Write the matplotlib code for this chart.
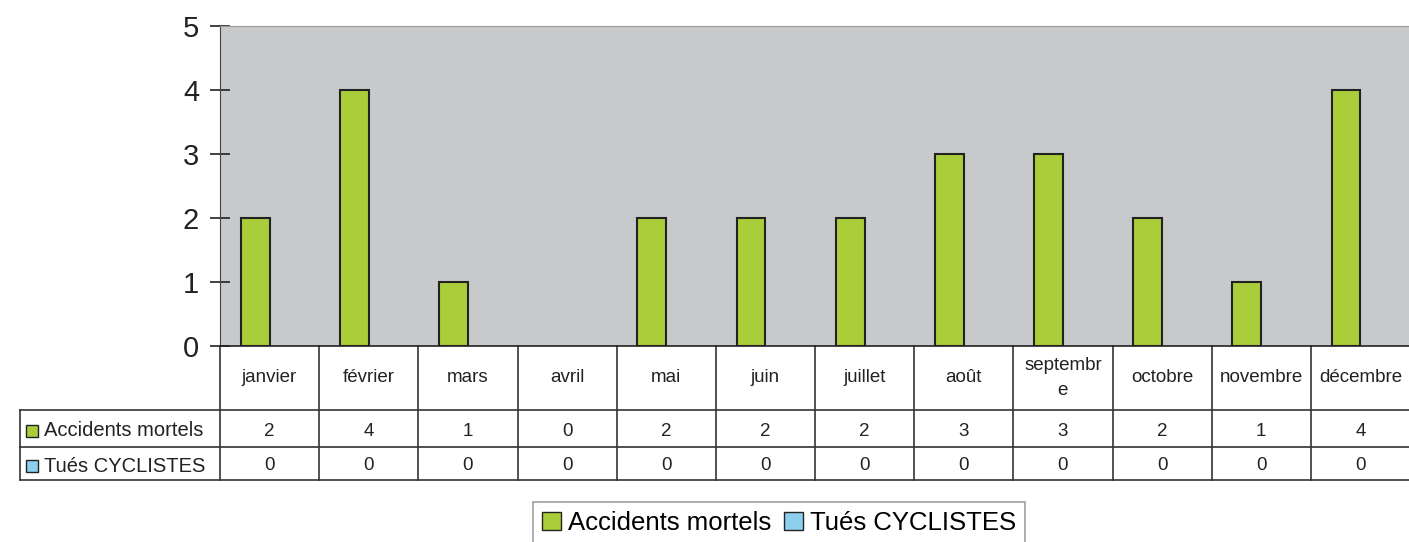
import matplotlib.pyplot as plt
import matplotlib.transforms as mtransforms
from matplotlib.patches import Patch, Rectangle

plt.rcParams['font.family'] = ['Liberation Sans', 'DejaVu Sans']

# données
mois = ['janvier', 'février', 'mars', 'avril', 'mai', 'juin', 'juillet',
        'août', 'septembr\ne', 'octobre', 'novembre', 'décembre']
accidents = [2, 4, 1, 0, 2, 2, 2, 3, 3, 2, 1, 4]
tues = [0, 0, 0, 0, 0, 0, 0, 0, 0, 0, 0, 0]
series = ['Accidents mortels', 'Tués CYCLISTES']

vert = '#AACD3A'
bleu = '#8DD0EE'
gris = '#C8C9CB'

W, H = 1409, 542
fig = plt.figure(figsize=(W / 100, H / 100), dpi=100)
ax = fig.add_axes([220 / W, (H - 346) / H, 1190 / W, 320 / H])
ax.set_facecolor(gris)

x = list(range(len(mois)))
larg = 0.29
ax.bar([i - larg / 2 for i in x], accidents, width=larg, color=vert,
       edgecolor=['#222222' if v else 'none' for v in accidents],
       linewidth=1.5, zorder=3)
ax.bar([i + larg / 2 for i in x], tues, width=larg, color=bleu,
       edgecolor=['#222222' if v else 'none' for v in tues],
       linewidth=1.5, zorder=3)

ax.set_xlim(-0.5, len(mois) - 0.5)
ax.set_ylim(0, 5)
ax.set_yticks(range(6))
ax.tick_params(axis='y', direction='inout', length=14, width=1.2,
               labelsize=21, pad=8, colors='#222222')
ax.set_xticks([])
ax.spines['right'].set_visible(False)
ax.spines['top'].set_color('#999999')
ax.spines['left'].set_color('#444444')
ax.spines['bottom'].set_color('#222222')
ax.spines['bottom'].set_linewidth(1.2)

# tableau de données sous le graphique
tr = mtransforms.blended_transform_factory(ax.transData, ax.transAxes)
def ay(py):
    return (346 - py) / 320.0
ux = 1190 / 12
xg = -0.5 - 200 / ux  # bord gauche de la colonne des libellés
lc = '#333333'
kw = dict(transform=tr, clip_on=False, color=lc, linewidth=1.2)
for i in range(len(mois) + 1):
    ax.plot([i - 0.5, i - 0.5], [ay(346), ay(480)], **kw)
for py in (410, 447, 480):
    ax.plot([xg, len(mois) - 0.5], [ay(py), ay(py)], **kw)
ax.plot([xg, xg], [ay(410), ay(480)], **kw)

for i, m in enumerate(mois):
    ax.text(i, ay(378), m, transform=tr, ha='center', va='center',
            fontsize=13.5, color='#222222', linespacing=1.55)
    ax.text(i, ay(431), str(accidents[i]), transform=tr, ha='center',
            va='center', fontsize=13.5, color='#222222')
    ax.text(i, ay(466), str(tues[i]), transform=tr, ha='center',
            va='center', fontsize=13.5, color='#222222')

for nom, coul, py in [(series[0], vert, 431), (series[1], bleu, 466)]:
    ax.add_patch(Rectangle((xg + 6 / ux, ay(py) - 6 / 320), 12 / ux, 12 / 320,
                           transform=tr, clip_on=False, facecolor=coul,
                           edgecolor='#222222', linewidth=1))
    ax.text(xg + 24 / ux, ay(py), nom, transform=tr, ha='left', va='center',
            fontsize=14.5, color='#222222')

# légende
poign = [Patch(facecolor=vert, edgecolor='#222222'),
         Patch(facecolor=bleu, edgecolor='#222222')]
leg = fig.legend(poign, series, loc='upper center',
                 bbox_to_anchor=(779 / W, (H - 502) / H), ncol=2, fontsize=18.5,
                 frameon=True, fancybox=False, handlelength=0.75,
                 handleheight=0.75, handletextpad=0.25, columnspacing=0.5,
                 borderpad=0.35, borderaxespad=0)
leg.get_frame().set_edgecolor('#888888')
leg.get_frame().set_linewidth(1.2)

fig.savefig('out.png', dpi=100)
